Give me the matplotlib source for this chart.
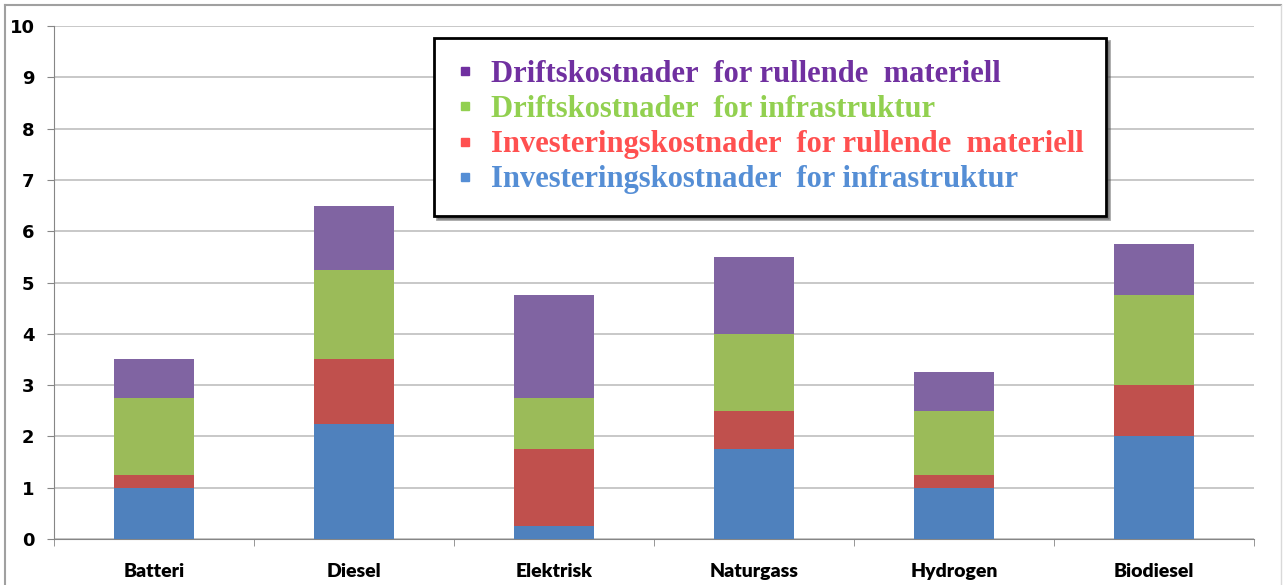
import numpy as np
import matplotlib
matplotlib.use("Agg")
import matplotlib.pyplot as plt
from matplotlib.lines import Line2D
from matplotlib.ticker import FixedLocator

# Data
categories = ['Batteri', 'Diesel', 'Elektrisk', 'Naturgass', 'Hydrogen', 'Biodiesel']
inv_infra = [1.0, 2.25, 0.25, 1.75, 1.0, 2.0]
inv_rull = [0.25, 1.25, 1.5, 0.75, 0.25, 1.0]
drift_infra = [1.5, 1.75, 1.0, 1.5, 1.25, 1.75]
drift_rull = [0.75, 1.25, 2.0, 1.5, 0.75, 1.0]

series_labels = ['Investeringskostnader  for infrastruktur',
                 'Investeringskostnader  for rullende  materiell',
                 'Driftskostnader  for infrastruktur',
                 'Driftskostnader  for rullende  materiell']
bar_colors = ['#4F81BD', '#C0504D', '#9BBB59', '#8064A2']
text_colors = ['#558ED5', '#FF5050', '#92D050', '#7030A0']

fig = plt.figure(figsize=(12.83, 5.85), dpi=100)
ax = fig.add_axes([54/1283, 1-539/585, 1200/1283, 513/585])

x = np.arange(len(categories))
bottom = np.zeros(len(categories))
for vals, col in zip([inv_infra, inv_rull, drift_infra, drift_rull], bar_colors):
    ax.bar(x, vals, width=0.4, bottom=bottom, color=col, zorder=3)
    bottom += np.array(vals)

ax.set_xlim(-0.5, len(categories) - 0.5)
ax.set_ylim(0, 10)
ax.set_yticks(range(11))
ax.yaxis.grid(True, color='#BFBFBF', linewidth=1.2, zorder=0)

ax.set_xticks(x)
ax.set_xticklabels(categories, fontfamily='Lato', fontweight='heavy', fontsize=14)
ax.xaxis.set_minor_locator(FixedLocator(np.arange(-0.5, len(categories), 1)))
ax.tick_params(axis='x', which='major', length=0, pad=17)
ax.tick_params(axis='x', which='minor', length=5, direction='out', color='#868686')
ax.tick_params(axis='y', length=5, direction='out', color='#868686', pad=9)
ax.set_yticklabels([str(v) for v in range(11)], fontweight='bold', fontsize=13)

for s in ['top', 'right']:
    ax.spines[s].set_visible(False)
for s in ['left', 'bottom']:
    ax.spines[s].set_color('#868686')

# Legend (top entry first)
handles = [Line2D([], [], marker='s', linestyle='none', markersize=6,
                  color=c) for c in text_colors[::-1]]
leg = ax.legend(handles, series_labels[::-1], loc='upper left',
                bbox_to_anchor=(434/1283, 1-38/585), bbox_transform=fig.transFigure,
                borderaxespad=0, fancybox=False, shadow=True, framealpha=1,
                edgecolor='black', handlelength=0.6, handletextpad=0.55,
                labelspacing=0.2, borderpad=0.72,
                prop={'family': 'Liberation Serif', 'weight': 'bold', 'size': 22})
leg.get_frame().set_linewidth(2)
for t, c in zip(leg.get_texts(), text_colors[::-1]):
    t.set_color(c)

# Outer chart border
fig.add_artist(Line2D([5/1283, 1281/1283], [1-5/585, 1-5/585], color='#A0A0A0', lw=1.5))
fig.add_artist(Line2D([5/1283, 5/1283], [0, 1-5/585], color='#A0A0A0', lw=1.5))
fig.add_artist(Line2D([1281/1283, 1281/1283], [0, 1-5/585], color='#D9D9D9', lw=1))

fig.savefig('out.png', dpi=100)
